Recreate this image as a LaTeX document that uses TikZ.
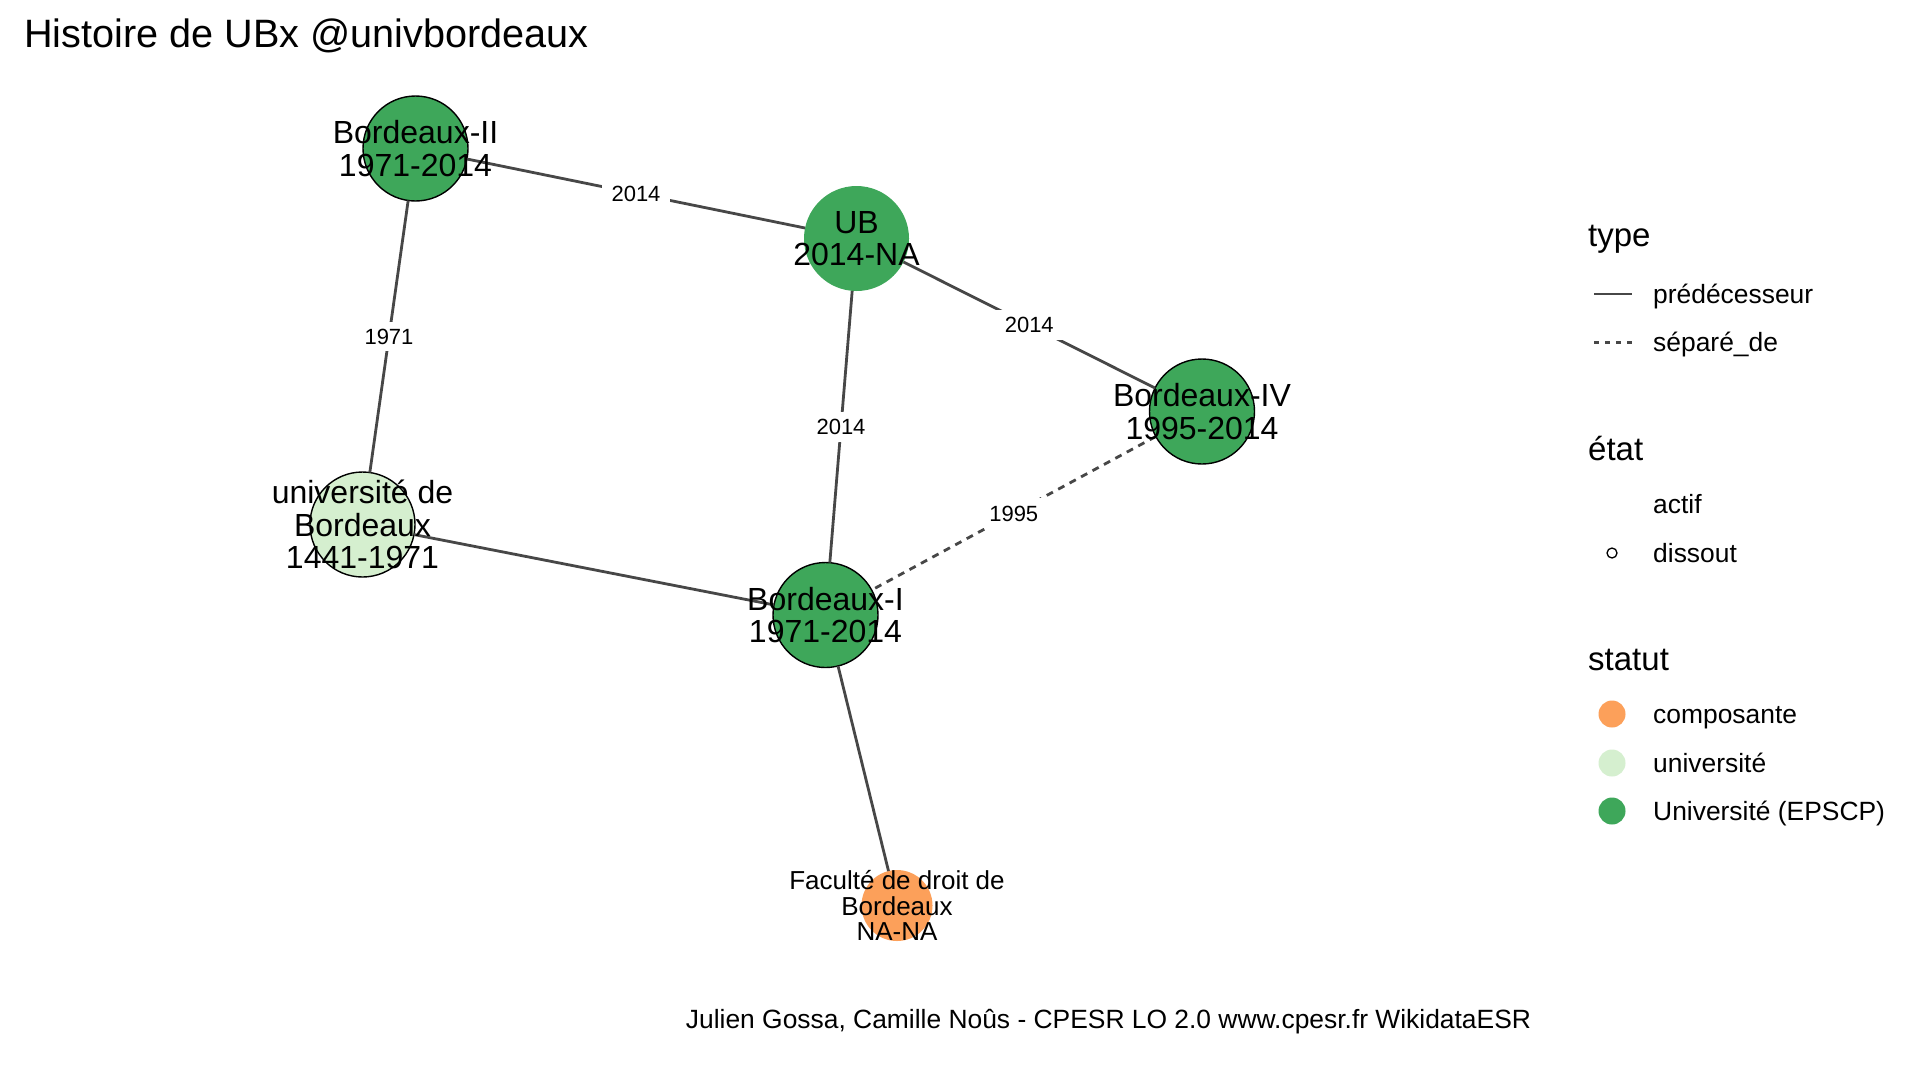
\documentclass[tikz,border=0pt]{standalone}
\usepackage{fontspec}
\setmainfont{Liberation Sans}
\definecolor{dgreen}{HTML}{3EA75A}
\definecolor{lgreen}{HTML}{D5EFCF}
\definecolor{orng}{HTML}{FCA05A}
\definecolor{edgec}{HTML}{474747}
\begin{document}
\begin{tikzpicture}[x=1pt,y=-1pt,
  circ/.style={circle,minimum size=105pt,inner sep=0pt,outer sep=0pt},
  small/.style={circle,minimum size=71pt,inner sep=0pt,outer sep=0pt},
  dis/.style={draw=black,line width=1.4pt},
  nlab/.style={align=center,font=\fontsize{32}{32.6}\selectfont,inner sep=0pt},
  slab/.style={align=center,font=\fontsize{26}{25.8}\selectfont,inner sep=0pt},
  conn/.style={draw=edgec,line width=2.8pt},
  dconn/.style={conn,dash pattern=on 7pt off 6pt},
  elab/.style={fill=white,font=\fontsize{22}{22}\selectfont,inner xsep=10pt,inner ysep=7pt,text height=15.8pt,text depth=0pt},
  legtitle/.style={anchor=base west,inner sep=0pt,font=\fontsize{33}{33}\selectfont},
  legitem/.style={anchor=base west,inner sep=0pt,font=\fontsize{26.4}{26.4}\selectfont},
  legdot/.style={circle,minimum size=27pt,inner sep=0pt},
]
\useasboundingbox (0,0) rectangle (1918,1080);
\fill[white] (0,0) rectangle (1918,1080);

% title
\node[anchor=base west,inner sep=0pt,font=\fontsize{39.6}{40}\selectfont] (title) at (24,47) {Histoire de UBx @univbordeaux};

% circles
\node[circ,fill=dgreen,dis] (b2) at (415.5,148.5) {};
\node[circ,fill=dgreen] (ub) at (856.5,238.5) {};
\node[circ,fill=dgreen,dis] (b4) at (1202,411.5) {};
\node[circ,fill=lgreen,dis] (ubx) at (362.5,524.5) {};
\node[circ,fill=dgreen,dis] (b1) at (825.5,615) {};
\node[small,fill=orng] (fac) at (897,905.5) {};

% edges
\draw[conn] (b2) -- node[elab] (l1) {2014} (ub);
\draw[conn] (ub) -- node[elab] (l2) {2014} (b4);
\draw[conn] (ub) -- node[elab] (l3) {2014} (b1);
\draw[conn] (b2) -- node[elab] (l4) {1971} (ubx);
\draw[conn] (ubx) -- (b1);
\draw[dconn] (b4) -- node[elab] (l5) {1995} (b1);
\draw[conn] (b1) -- (fac);

% node labels
\node[nlab] (b2t) at (b2) {Bordeaux-II\\1971-2014};
\node[nlab] (ubt) at (ub) {UB\\2014-NA};
\node[nlab] (b4t) at (b4) {Bordeaux-IV\\1995-2014};
\node[nlab] (ubxt) at (ubx) {université de\\Bordeaux\\1441-1971};
\node[nlab] (b1t) at (b1) {Bordeaux-I\\1971-2014};
\node[slab] (fact) at (fac) {Faculté de droit de\\Bordeaux\\NA-NA};

% legend
\node[legtitle] (lt1) at (1588,246) {type};
\coordinate (k1a) at (1594,294);
\coordinate (k1b) at (1632,294);
\draw[conn,line width=2.4pt] (k1a) -- (k1b);
\node[legitem] (li1) at (1653,303) {prédécesseur};
\coordinate (k2a) at (1594,342.5);
\coordinate (k2b) at (1632,342.5);
\draw[conn,line width=2.4pt,dash pattern=on 5pt off 6pt] (k2a) -- (k2b);
\node[legitem] (li2) at (1653,351.5) {séparé\_de};

\node[legtitle] (lt2) at (1588,460) {état};
\node[legitem] (li3) at (1653,513) {actif};
\node[circle,draw=black,line width=1.3pt,minimum size=10pt,inner sep=0pt] (kd) at (1612,553) {};
\node[legitem] (li4) at (1653,562) {dissout};

\node[legtitle] (lt3) at (1588,670) {statut};
\node[legdot,fill=orng] (kc1) at (1612,714) {};
\node[legitem] (li5) at (1653,723) {composante};
\node[legdot,fill=lgreen] (kc2) at (1612,763) {};
\node[legitem] (li6) at (1653,772) {université};
\node[legdot,fill=dgreen] (kc3) at (1612,811) {};
\node[legitem] (li7) at (1653,820) {Université (EPSCP)};

% caption
\node[anchor=base,inner sep=0pt,font=\fontsize{26.4}{26.4}\selectfont] (cap) at (1108.5,1028) {Julien Gossa, Camille Noûs - CPESR LO 2.0 www.cpesr.fr WikidataESR};
\end{tikzpicture}
\end{document}
